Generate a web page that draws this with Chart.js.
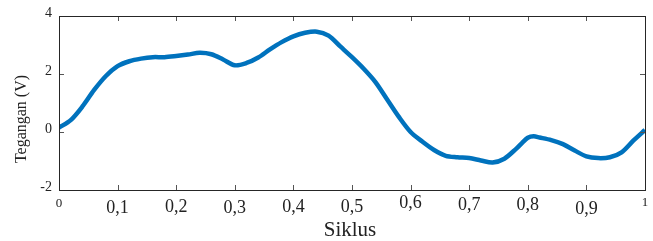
<!DOCTYPE html>
<html>
<head>
<meta charset="utf-8">
<script src="https://cdn.jsdelivr.net/npm/chart.js@4"></script>
<style>
  html, body { margin: 0; padding: 0; background: #fff; }
  #wrap { width: 653px; height: 241px; }
</style>
</head>
<body>
<div id="wrap"><canvas id="chart"></canvas></div>
<script>
// data
const siklus = [0, 0.02, 0.04, 0.06, 0.08, 0.1, 0.12, 0.14, 0.16, 0.18, 0.2, 0.22, 0.24, 0.26, 0.28, 0.3,
  0.32, 0.34, 0.36, 0.38, 0.4, 0.42, 0.44, 0.46, 0.48, 0.5, 0.52, 0.54, 0.56, 0.58, 0.6, 0.62, 0.64,
  0.66, 0.68, 0.7, 0.72, 0.74, 0.76, 0.78, 0.79, 0.8, 0.81, 0.82, 0.84, 0.86, 0.88, 0.9, 0.92, 0.94,
  0.96, 0.98, 1]
const tegangan = [0.15, 0.41, 0.88, 1.45, 1.93, 2.27, 2.44, 2.53, 2.58, 2.58, 2.62, 2.67, 2.73, 2.68, 2.5, 2.3,
  2.38, 2.57, 2.85, 3.1, 3.3, 3.42, 3.46, 3.32, 2.95, 2.58, 2.18, 1.72, 1.12, 0.52, 0.0, -0.33, -0.62,
  -0.82, -0.87, -0.9, -0.98, -1.05, -0.92, -0.58, -0.38, -0.2, -0.15, -0.19, -0.28, -0.42, -0.64, -0.84,
  -0.9, -0.87, -0.7, -0.3, 0.07]
const xTicks = [0, 0.1, 0.2, 0.3, 0.4, 0.5, 0.6, 0.7, 0.8, 0.9, 1]
const xTickLabels = ["0", "0,1", "0,2", "0,3", "0,4", "0,5", "0,6", "0,7", "0,8", "0,9", "1"]
const yTicks = [-2, 0, 2, 4]
const yTickLabels = ["-2", "0", "2", "4"]

// baseline drop of each x label below the axis (the reference staggers them)
const xLabelDrop = [17, 23, 22, 23, 22, 22, 18, 20, 20, 24, 16]

const serif = "'Liberation Serif', 'DejaVu Serif', serif"

const frame = {
  id: "frame",
  afterDraw(chart) {
    const ctx = chart.ctx
    const a = chart.chartArea
    const xs = chart.scales.x
    const ys = chart.scales.y
    ctx.save()

    // inward ticks
    ctx.strokeStyle = "#555"
    ctx.lineWidth = 1
    ctx.beginPath()
    xTicks.forEach((v) => {
      const px = Math.round(xs.getPixelForValue(v)) + 0.5
      ctx.moveTo(px, a.bottom); ctx.lineTo(px, a.bottom - 5)
      ctx.moveTo(px, a.top); ctx.lineTo(px, a.top + 5)
    })
    yTicks.forEach((v) => {
      const py = Math.round(ys.getPixelForValue(v)) + 0.5
      ctx.moveTo(a.left, py); ctx.lineTo(a.left + 5, py)
      ctx.moveTo(a.right, py); ctx.lineTo(a.right - 5, py)
    })
    ctx.stroke()

    // box
    ctx.strokeStyle = "#262626"
    ctx.strokeRect(Math.round(a.left) + 0.5, Math.round(a.top) + 0.5,
      Math.round(a.right - a.left), Math.round(a.bottom - a.top))

    ctx.fillStyle = "#222"
    ctx.textBaseline = "alphabetic"
    // y tick labels
    ctx.font = "14px " + serif
    ctx.textAlign = "right"
    yTicks.forEach((v, i) => {
      ctx.fillText(yTickLabels[i], a.left - 7, ys.getPixelForValue(v) + 1)
    })

    // x tick labels
    ctx.textAlign = "center"
    xTicks.forEach((v, i) => {
      const edge = i === 0 || i === xTicks.length - 1
      ctx.font = (edge ? "13px " : "18px ") + serif
      ctx.fillText(xTickLabels[i], xs.getPixelForValue(v), a.bottom + xLabelDrop[i])
    })

    // axis titles
    ctx.font = "21px " + serif
    ctx.fillText("Siklus", 350, 236)
    ctx.save()
    ctx.translate(26, 119)
    ctx.rotate(-Math.PI / 2)
    ctx.font = "16px " + serif
    ctx.fillText("Tegangan (V)", 0, 0)
    ctx.restore()

    ctx.restore()
  },
}

new Chart(document.getElementById("chart"), {
  type: "line",
  data: {
    datasets: [
      {
        data: siklus.map((x, i) => ({ x: x, y: tegangan[i] })),
        borderColor: "#0072BD",
        borderWidth: 4.5,
        pointRadius: 0,
        tension: 0.3,
        fill: false,
      },
    ],
  },
  options: {
    responsive: true,
    maintainAspectRatio: false,
    animation: false,
    layout: { padding: { left: 59, right: 8, top: 16, bottom: 51 } },
    plugins: { legend: { display: false }, tooltip: { enabled: false } },
    scales: {
      x: { type: "linear", min: 0, max: 1, display: false },
      y: { min: -2, max: 4, display: false },
    },
  },
  plugins: [frame],
})
</script>
</body>
</html>
